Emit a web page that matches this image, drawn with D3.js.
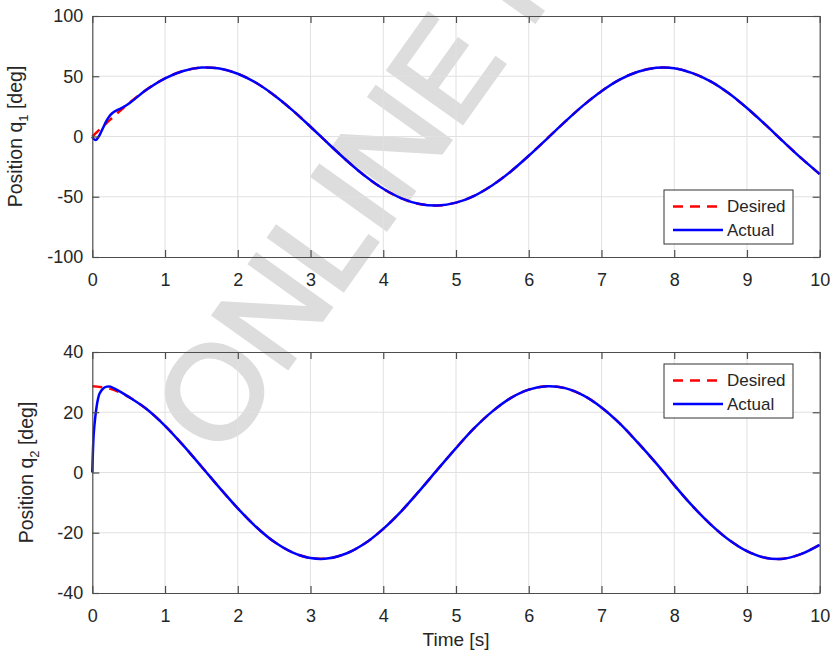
<!DOCTYPE html>
<html>
<head>
<meta charset="utf-8">
<script src="https://cdn.jsdelivr.net/npm/d3@7"></script>
<style>
  body { margin: 0; background: #fff; }
  text { font-family: "Liberation Sans", Arial, sans-serif; fill: #262626; }
</style>
</head>
<body>
<svg id="chart" width="830" height="655"></svg>
<script>
// time grid (s) used for the desired trajectories
const tDesired = [0, 0.25, 0.5, 0.75, 1, 1.25, 1.5, 1.75, 2, 2.25, 2.5, 2.75, 3, 3.25, 3.5, 3.75,
  4, 4.25, 4.5, 4.75, 5, 5.25, 5.5, 5.75, 6, 6.25, 6.5, 6.75, 7, 7.25, 7.5, 7.75,
  8, 8.25, 8.5, 8.75, 9, 9.25, 9.5, 9.75, 10];

// joint 1 (deg)
const q1Desired = [0, 14.2, 27.5, 39.1, 48.2, 54.4, 57.2, 56.4, 52.1, 44.6, 34.3, 21.9, 8.1, -6.2, -20.1, -32.8,
  -43.4, -51.3, -56.0, -57.3, -54.9, -49.2, -40.4, -29.2, -16.0, -1.9, 12.3, 25.8, 37.6, 47.2, 53.7, 57.0,
  56.7, 52.6, 45.7, 35.8, 23.6, 10.0, -4.3, -18.2, -31.2];

// actual samples: dense at start (transient), then same grid
const tActual1 = [0, 0.02, 0.05, 0.1, 0.15, 0.2, 0.25, 0.3, 0.4, 0.5, 0.75, 1, 1.25, 1.5, 1.75, 2, 2.25, 2.5, 2.75, 3, 3.25, 3.5, 3.75,
  4, 4.25, 4.5, 4.75, 5, 5.25, 5.5, 5.75, 6, 6.25, 6.5, 6.75, 7, 7.25, 7.5, 7.75,
  8, 8.25, 8.5, 8.75, 9, 9.25, 9.5, 9.75, 10];
const q1Actual = [0, -2.2, -2.8, 1.2, 7.5, 13.5, 18.0, 20.6, 23.6, 27.2, 39.0, 48.3, 54.4, 57.2, 56.4, 52.1, 44.6, 34.3, 21.9, 8.1, -6.2, -20.1, -32.8,
  -43.4, -51.3, -56.0, -57.3, -54.9, -49.2, -40.4, -29.2, -16.0, -1.9, 12.3, 25.8, 37.6, 47.2, 53.7, 57.0,
  56.7, 52.6, 45.7, 35.8, 23.6, 10.0, -4.3, -18.2, -31.2];

// joint 2 (deg)
const q2Desired = [28.6, 27.8, 25.1, 21.0, 15.5, 9.0, 2.0, -5.1, -11.9, -18.0, -23.0, -26.5, -28.4, -28.5, -26.8, -23.5,
  -18.7, -12.8, -6.0, 1.1, 8.1, 14.7, 20.3, 24.7, 27.5, 28.6, 28.0, 25.6, 21.6, 16.3, 9.9, 3.1,
  -4.2, -11.1, -17.2, -22.3, -26.1, -28.3, -28.6, -27.0, -24.0];

const tActual2 = [0, 0.01, 0.02, 0.04, 0.06, 0.08, 0.1, 0.15, 0.2, 0.25, 0.3, 0.4, 0.5, 0.75, 1, 1.25, 1.5, 1.75, 2, 2.25, 2.5, 2.75, 3, 3.25, 3.5, 3.75,
  4, 4.25, 4.5, 4.75, 5, 5.25, 5.5, 5.75, 6, 6.25, 6.5, 6.75, 7, 7.25, 7.5, 7.75,
  8, 8.25, 8.5, 8.75, 9, 9.25, 9.5, 9.75, 10];
const q2Actual = [0, 8.0, 13.0, 18.2, 22.0, 24.6, 26.2, 27.9, 28.5, 28.5, 27.9, 26.6, 25.1, 21.0, 15.5, 9.0, 2.0, -5.1, -11.9, -18.0, -23.0, -26.5, -28.4, -28.5, -26.8, -23.5,
  -18.7, -12.8, -6.0, 1.1, 8.1, 14.7, 20.3, 24.7, 27.5, 28.6, 28.0, 25.6, 21.6, 16.3, 9.9, 3.1,
  -4.2, -11.1, -17.2, -22.3, -26.1, -28.3, -28.6, -27.0, -24.0];

const xTicks = [0, 1, 2, 3, 4, 5, 6, 7, 8, 9, 10];
const yTicks1 = [-100, -50, 0, 50, 100];
const yTicks2 = [-40, -20, 0, 20, 40];
const legendLabels = ["Desired", "Actual"];

// layout
const LEFT = 92.3, RIGHT = 819.7;
const TICK = 7;
const svg = d3.select("#chart");

const x = d3.scaleLinear().domain([0, 10]).range([LEFT, RIGHT]);

// watermark (behind everything)
svg.append("text")
  .attr("transform", "translate(222,460) rotate(-54.5)")
  .style("font-size", "132px")
  .style("fill", "#dddddd")
  .style("stroke", "#dddddd")
  .style("stroke-width", 4)
  .style("stroke-linejoin", "miter")
  .text("ONLINE FIRST");

function drawPanel(top, bottom, yDomain, yTicks, series, legendTop, sub, labelX) {
  const y = d3.scaleLinear().domain(yDomain).range([bottom, top]);
  const g = svg.append("g");

  // grid
  g.selectAll(".gx").data(xTicks.slice(1, -1)).join("line")
    .attr("x1", d => x(d)).attr("x2", d => x(d))
    .attr("y1", top).attr("y2", bottom)
    .attr("stroke", "#e1e1e1").attr("stroke-width", 1);
  g.selectAll(".gy").data(yTicks.slice(1, -1)).join("line")
    .attr("x1", LEFT).attr("x2", RIGHT)
    .attr("y1", d => y(d)).attr("y2", d => y(d))
    .attr("stroke", "#e1e1e1").attr("stroke-width", 1);

  // curves
  const line = d3.line().curve(d3.curveCatmullRom)
    .x(d => x(d[0])).y(d => y(d[1]));
  series.forEach(s => {
    g.append("path")
      .datum(d3.zip(s.t, s.v))
      .attr("d", line)
      .attr("fill", "none")
      .attr("stroke", s.color)
      .attr("stroke-width", 2.5)
      .attr("stroke-dasharray", s.dash || null);
  });

  // axes (box with inward ticks on all sides)
  const axB = d3.axisBottom(x).tickValues(xTicks).tickSizeInner(-TICK).tickSizeOuter(0).tickPadding(16);
  const axT = d3.axisTop(x).tickValues(xTicks).tickSizeInner(-TICK).tickSizeOuter(0).tickFormat("");
  const axL = d3.axisLeft(y).tickValues(yTicks).tickSizeInner(-TICK).tickSizeOuter(0).tickPadding(9)
    .tickFormat(d => String(d));
  const axR = d3.axisRight(y).tickValues(yTicks).tickSizeInner(-TICK).tickSizeOuter(0).tickFormat("");
  [[axB, `translate(0,${bottom})`], [axT, `translate(0,${top})`],
   [axL, `translate(${LEFT},0)`], [axR, `translate(${RIGHT},0)`]].forEach(([ax, tr]) => {
    const a = g.append("g").attr("transform", tr).call(ax);
    a.select(".domain").attr("stroke", "#4d4d4d").attr("stroke-width", 1.2);
    a.selectAll(".tick line").attr("stroke", "#4d4d4d").attr("stroke-width", 1.2);
    a.selectAll(".tick text").style("font-size", "18px").attr("fill", "#262626")
      .style("font-family", "'Liberation Sans', Arial, sans-serif");
  });

  // y label
  const lbl = g.append("text")
    .attr("transform", `translate(${labelX},${(top + bottom) / 2}) rotate(-90)`)
    .attr("text-anchor", "middle")
    .style("font-size", "19.5px");
  lbl.append("tspan").text("Position q");
  lbl.append("tspan").attr("dy", 6).style("font-size", "13px").text(sub);
  lbl.append("tspan").attr("dy", -6).text(" [deg]");

  // legend
  const lx = 664, lw = 129, lh = 54;
  const lg = g.append("g").attr("transform", `translate(${lx},${legendTop})`);
  lg.append("rect").attr("width", lw).attr("height", lh)
    .attr("fill", "#fff").attr("stroke", "#333").attr("stroke-width", 1);
  series.forEach((s, i) => {
    const cy = 16.5 + i * 23.5;
    lg.append("line").attr("x1", 9).attr("x2", 59).attr("y1", cy).attr("y2", cy)
      .attr("stroke", s.color).attr("stroke-width", 2.5)
      .attr("stroke-dasharray", s.dash || null);
    lg.append("text").attr("x", 63).attr("y", cy).attr("dy", "0.35em")
      .style("font-size", "17px").text(legendLabels[i]);
  });
}

drawPanel(16, 257, [-100, 100], yTicks1, [
  { t: tDesired, v: q1Desired, color: "#ff0000", dash: "10,7" },
  { t: tActual1, v: q1Actual, color: "#0000ff" }
], 190, "1", 22);

drawPanel(352, 593, [-40, 40], yTicks2, [
  { t: tDesired, v: q2Desired, color: "#ff0000", dash: "10,7" },
  { t: tActual2, v: q2Actual, color: "#0000ff" }
], 364, "2", 33);

// x label
svg.append("text")
  .attr("x", 456).attr("y", 646)
  .attr("text-anchor", "middle")
  .style("font-size", "19px")
  .text("Time [s]");
</script>
</body>
</html>
